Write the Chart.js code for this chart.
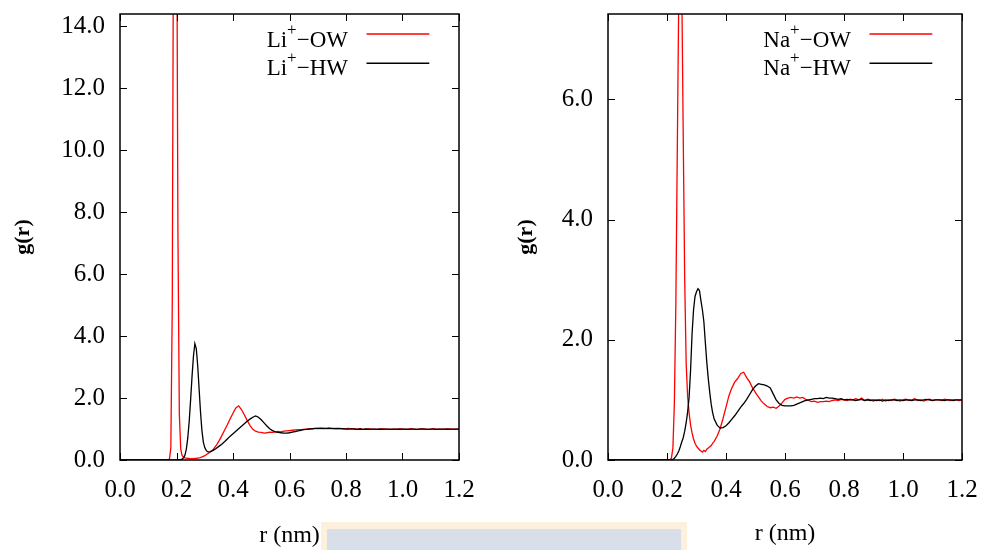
<!DOCTYPE html>
<html>
<head>
<meta charset="utf-8">
<script src="https://cdn.jsdelivr.net/npm/chart.js@4.4.0/dist/chart.umd.min.js"></script>
<style>
  html, body { margin: 0; padding: 0; background: #fff; }
  #wrap { position: relative; width: 981px; height: 550px; overflow: hidden; }
  .panel { position: absolute; top: 0; height: 550px; }
  #left { left: 0; width: 490px; }
  #right { left: 490px; width: 491px; }
  #strip { position: absolute; left: 321px; top: 522px; width: 366px; height: 28px; background: #fdf0dd; }
  #strip div { position: absolute; left: 6px; top: 7px; right: 6px; bottom: 0; background: #d8dfe8; }
</style>
</head>
<body>
<div id="wrap">
  <div class="panel" id="left"><canvas id="li"></canvas></div>
  <div class="panel" id="right"><canvas id="na"></canvas></div>
  <div id="strip"><div></div></div>
</div>
<script>
// r grid (nm) and g(r) values, Li+ panel
const rLi = [
  0.00, 0.10, 0.16, 0.17, 0.175, 0.18, 0.185, 0.19, 0.195, 0.20, 0.205, 0.21, 0.215, 0.22, 0.225, 0.23, 0.235,
  0.24, 0.245, 0.25, 0.255, 0.26, 0.265, 0.27, 0.275, 0.28, 0.285, 0.29, 0.295, 0.30, 0.305, 0.31, 0.315, 0.32,
  0.33, 0.34, 0.35, 0.36, 0.37, 0.38, 0.39, 0.40, 0.41, 0.42, 0.43, 0.44, 0.45, 0.46, 0.47, 0.48, 0.49, 0.50,
  0.51, 0.52, 0.53, 0.54, 0.55, 0.56, 0.57, 0.58, 0.59, 0.60,
  0.61, 0.62, 0.63, 0.64, 0.65, 0.66, 0.67, 0.68, 0.69, 0.70,
  0.71, 0.72, 0.73, 0.74, 0.75, 0.76, 0.77, 0.78, 0.79, 0.80,
  0.81, 0.82, 0.83, 0.84, 0.85, 0.86, 0.87, 0.88, 0.89, 0.90,
  0.91, 0.92, 0.93, 0.94, 0.95, 0.96, 0.97, 0.98, 0.99, 1.00,
  1.01, 1.02, 1.03, 1.04, 1.05, 1.06, 1.07, 1.08, 1.09, 1.10,
  1.11, 1.12, 1.13, 1.14, 1.15, 1.16, 1.17, 1.18, 1.19, 1.20
];
const gLiOW = [
  0, 0, 0, 0, 0.03, 0.4, 5.0, 19.5, 28.0, 20.0, 7.4, 1.5, 0.35, 0.14, 0.09, 0.07, 0.06,
  0.05, 0.05, 0.04, 0.05, 0.04, 0.05, 0.05, 0.06, 0.07, 0.08, 0.10, 0.12, 0.14, 0.17, 0.20, 0.23, 0.27,
  0.34, 0.46, 0.61, 0.78, 0.96, 1.14, 1.33, 1.51, 1.68, 1.75, 1.63, 1.46, 1.28, 1.12, 0.99, 0.93, 0.90, 0.89,
  0.87, 0.88, 0.90, 0.89, 0.91, 0.92, 0.91, 0.93, 0.94, 0.95,
  0.96, 0.97, 0.98, 0.98, 0.99, 1.00, 1.01, 1.00, 1.01, 1.02,
  1.01, 1.02, 1.01, 1.02, 1.01, 1.02, 1.01, 1.02, 1.00, 1.01,
  1.02, 1.00, 1.01, 1.00, 1.01, 0.99, 1.00, 1.01, 0.99, 1.00,
  1.00, 0.99, 1.01, 1.00, 0.99, 1.00, 1.00, 0.99, 1.01, 1.00,
  0.99, 1.00, 1.01, 1.00, 0.99, 1.00, 1.01, 1.00, 0.99, 1.00,
  1.01, 1.00, 1.00, 0.99, 1.00, 1.01, 1.00, 0.99, 1.00, 1.00
];
const gLiHW = [
  0, 0, 0, 0, 0, 0, 0, 0, 0, 0, 0, 0.01, 0.01, 0.03, 0.07, 0.16, 0.36,
  0.72, 1.25, 1.95, 2.70, 3.35, 3.76, 3.60, 3.05, 2.30, 1.55, 0.95, 0.58, 0.40, 0.31, 0.27, 0.26, 0.27,
  0.31, 0.37, 0.44, 0.51, 0.59, 0.68, 0.77, 0.85, 0.93, 1.01, 1.09, 1.17, 1.25, 1.32, 1.38, 1.42, 1.38, 1.30,
  1.20, 1.10, 1.01, 0.95, 0.91, 0.89, 0.88, 0.87, 0.87, 0.88,
  0.90, 0.92, 0.94, 0.96, 0.98, 0.99, 1.00, 1.01, 1.02, 1.02,
  1.03, 1.02, 1.02, 1.03, 1.02, 1.01, 1.02, 1.01, 1.01, 1.00,
  1.00, 1.01, 1.00, 0.99, 1.00, 0.99, 1.00, 0.99, 1.00, 1.00,
  0.99, 1.00, 0.99, 1.00, 1.00, 0.99, 1.00, 1.00, 0.99, 1.00,
  1.00, 0.99, 1.00, 1.00, 0.99, 1.00, 1.00, 1.00, 0.99, 1.00,
  1.00, 0.99, 1.00, 1.00, 1.00, 0.99, 1.00, 1.00, 1.00, 1.00
];

// r grid (nm) and g(r) values, Na+ panel
const rNa = [
  0.00, 0.10, 0.20, 0.21,
  0.215, 0.22, 0.225, 0.23, 0.235, 0.24, 0.245, 0.25, 0.255, 0.26, 0.265, 0.27, 0.275, 0.28, 0.285,
  0.29, 0.295, 0.30, 0.305, 0.31, 0.315, 0.32, 0.325, 0.33, 0.335, 0.34, 0.345, 0.35, 0.355, 0.36,
  0.37, 0.38, 0.39, 0.40, 0.41, 0.42, 0.43, 0.44, 0.45, 0.46, 0.47, 0.48, 0.49, 0.50,
  0.51, 0.52, 0.53, 0.54, 0.55, 0.56, 0.57, 0.58, 0.59, 0.60,
  0.61, 0.62, 0.63, 0.64, 0.65, 0.66, 0.67, 0.68, 0.69, 0.70,
  0.71, 0.72, 0.73, 0.74, 0.75, 0.76, 0.77, 0.78, 0.79, 0.80,
  0.81, 0.82, 0.83, 0.84, 0.85, 0.86, 0.87, 0.88, 0.89, 0.90,
  0.91, 0.92, 0.93, 0.94, 0.95, 0.96, 0.97, 0.98, 0.99, 1.00,
  1.01, 1.02, 1.03, 1.04, 1.05, 1.06, 1.07, 1.08, 1.09, 1.10,
  1.11, 1.12, 1.13, 1.14, 1.15, 1.16, 1.17, 1.18, 1.19, 1.20
];
const gNaOW = [
  0, 0, 0, 0,
  0.03, 0.20, 0.95, 2.60, 5.20, 7.80, 9.00, 7.90, 5.40, 3.00, 1.60, 1.05, 0.78, 0.58, 0.45,
  0.35, 0.28, 0.23, 0.20, 0.17, 0.15, 0.13, 0.16, 0.14, 0.18, 0.20, 0.22, 0.24, 0.28, 0.31,
  0.40, 0.52, 0.69, 0.88, 1.07, 1.20, 1.30, 1.36, 1.44, 1.46, 1.37, 1.30, 1.20, 1.12,
  1.05, 0.98, 0.93, 0.89, 0.87, 0.88, 0.86, 0.90, 0.95, 1.01,
  1.03, 1.04, 1.03, 1.05, 1.03, 1.04, 1.01, 0.99, 0.97, 0.98,
  0.96, 0.97, 0.97, 0.98, 0.97, 0.99, 1.00, 0.99, 1.01, 1.00,
  0.99, 1.01, 1.00, 1.02, 1.00, 1.03, 0.99, 1.01, 1.00, 0.98,
  1.00, 0.99, 1.01, 0.98, 1.00, 0.99, 1.01, 1.00, 0.98, 1.00,
  1.01, 0.99, 1.00, 1.02, 0.99, 1.00, 0.98, 1.00, 1.01, 0.99,
  1.00, 1.00, 0.99, 1.01, 1.00, 0.99, 1.00, 1.00, 0.99, 1.00
];
const gNaHW = [
  0, 0, 0, 0,
  0, 0.01, 0.03, 0.06, 0.10, 0.15, 0.22, 0.30, 0.37, 0.48, 0.62, 0.80, 1.05, 1.50, 2.10,
  2.50, 2.72, 2.80, 2.85, 2.82, 2.65, 2.50, 2.30, 1.95, 1.62, 1.35, 1.12, 0.92, 0.78, 0.68,
  0.58, 0.53, 0.54, 0.57, 0.62, 0.68, 0.74, 0.81, 0.88, 0.94, 1.01, 1.09, 1.17, 1.23,
  1.27, 1.26, 1.25, 1.23, 1.20, 1.10, 1.00, 0.94, 0.91, 0.90,
  0.90, 0.90, 0.91, 0.93, 0.95, 0.97, 0.99, 1.00, 1.01, 1.02,
  1.02, 1.03, 1.02, 1.04, 1.03, 1.03, 1.02, 1.01, 1.02, 1.00,
  1.01, 1.00, 1.00, 0.99, 1.00, 1.01, 0.99, 1.00, 0.99, 1.00,
  0.99, 1.00, 0.98, 1.00, 0.99, 1.00, 1.00, 0.99, 1.00, 0.99,
  1.00, 1.00, 0.99, 1.00, 1.00, 0.99, 1.00, 1.01, 1.00, 0.99,
  1.00, 1.00, 1.00, 0.99, 1.00, 1.00, 0.99, 1.00, 1.00, 1.00
];

const SERIF = '"Liberation Serif", "DejaVu Serif", serif';

const pts = (r, g) => r.map((v, i) => ({ x: v, y: g[i] }));

// gnuplot-like frame: box, inward ticks on all sides, legend and axis titles
const framePlugin = {
  id: 'frame',
  afterDatasetsDraw(chart, args, opts) {
    const { ctx, chartArea: a, scales: { x, y } } = chart;
    ctx.save();
    ctx.strokeStyle = '#000';
    ctx.lineWidth = 1;
    ctx.beginPath();
    x.ticks.forEach(t => {
      const px = Math.round(x.getPixelForValue(t.value)) + 0.5;
      ctx.moveTo(px, a.bottom); ctx.lineTo(px, a.bottom - 7);
      ctx.moveTo(px, a.top); ctx.lineTo(px, a.top + 7);
    });
    y.ticks.forEach(t => {
      const py = Math.round(y.getPixelForValue(t.value)) + 0.5;
      ctx.moveTo(a.left, py); ctx.lineTo(a.left + 7, py);
      ctx.moveTo(a.right, py); ctx.lineTo(a.right - 7, py);
    });
    ctx.stroke();
    ctx.lineWidth = 1.5;
    ctx.strokeRect(a.left, a.top, a.right - a.left, a.bottom - a.top);

    // legend
    opts.entries.forEach((e, i) => {
      const base = a.top + 32.5 + i * 28.5;
      const lineY = a.top + 20 + i * 29.3;
      ctx.font = '23px ' + SERIF;
      const w1 = ctx.measureText(e.base).width;
      const w3 = ctx.measureText(e.tail).width;
      ctx.font = '17px ' + SERIF;
      const w2 = ctx.measureText('+').width;
      let tx = a.right - 111 - (w1 + w2 + w3);
      ctx.fillStyle = '#000';
      ctx.textBaseline = 'alphabetic';
      ctx.textAlign = 'left';
      ctx.font = '23px ' + SERIF;
      ctx.fillText(e.base, tx, base);
      ctx.font = '17px ' + SERIF;
      ctx.fillText('+', tx + w1, base - 12);
      ctx.font = '23px ' + SERIF;
      ctx.fillText(e.tail, tx + w1 + w2, base);
      ctx.strokeStyle = e.color;
      ctx.lineWidth = 1.5;
      ctx.beginPath();
      ctx.moveTo(a.right - 92.5, lineY);
      ctx.lineTo(a.right - 29.7, lineY);
      ctx.stroke();
    });

    // axis titles
    ctx.fillStyle = '#000';
    ctx.textAlign = 'center';
    ctx.textBaseline = 'middle';
    ctx.font = '24px ' + SERIF;
    ctx.fillText('r (nm)', (a.left + a.right) / 2, opts.xTitleY);
    ctx.save();
    ctx.translate(opts.yTitleX, 237);
    ctx.rotate(-Math.PI / 2);
    ctx.font = 'bold 22px ' + SERIF;
    ctx.fillText('g(r)', 0, 0);
    ctx.restore();
    ctx.restore();
  }
};

function makeChart(id, r, gO, gH, ymax, ion, padRight, yWidth, yTitleX, xTitleY) {
  return new Chart(document.getElementById(id), {
    type: 'line',
    data: {
      datasets: [
        { label: ion + '+-OW', data: pts(r, gO), borderColor: '#ff0000', borderWidth: 1.3, pointRadius: 0, tension: 0, order: 1 },
        { label: ion + '+-HW', data: pts(r, gH), borderColor: '#000000', borderWidth: 1.3, pointRadius: 0, tension: 0, order: 0 }
      ]
    },
    options: {
      responsive: true,
      maintainAspectRatio: false,
      animation: false,
      events: [],
      devicePixelRatio: 1,
      layout: { padding: { left: 0, right: padRight, top: 14, bottom: 0 } },
      scales: {
        x: {
          type: 'linear', min: 0, max: 1.2,
          grid: { display: false, drawTicks: false },
          border: { display: false },
          ticks: { stepSize: 0.2, padding: 15, color: '#000', font: { family: SERIF, size: 25 },
                   maxRotation: 0, callback: v => v.toFixed(1) },
          afterFit: s => { s.height = 90; s.paddingLeft = 0; s.paddingRight = 0; }
        },
        y: {
          min: 0, max: ymax,
          grid: { display: false, drawTicks: false },
          border: { display: false },
          ticks: { stepSize: 2, includeBounds: false, padding: 15, color: '#000',
                   font: { family: SERIF, size: 25 }, callback: v => v.toFixed(1) },
          afterFit: s => { s.width = yWidth; s.paddingTop = 0; s.paddingBottom = 0; }
        }
      },
      plugins: {
        legend: { display: false },
        tooltip: { enabled: false },
        frame: {
          entries: [
            { base: ion, tail: '\u2212OW', color: '#ff0000' },
            { base: ion, tail: '\u2212HW', color: '#000000' }
          ],
          yTitleX: yTitleX,
          xTitleY: xTitleY
        }
      }
    },
    plugins: [framePlugin]
  });
}

makeChart('li', rLi, gLiOW, gLiHW, 14.4, 'Li', 31, 120, 23.5, 536);
makeChart('na', rNa, gNaOW, gNaHW, 7.42, 'Na', 19, 118, 36, 534);
</script>
</body>
</html>
